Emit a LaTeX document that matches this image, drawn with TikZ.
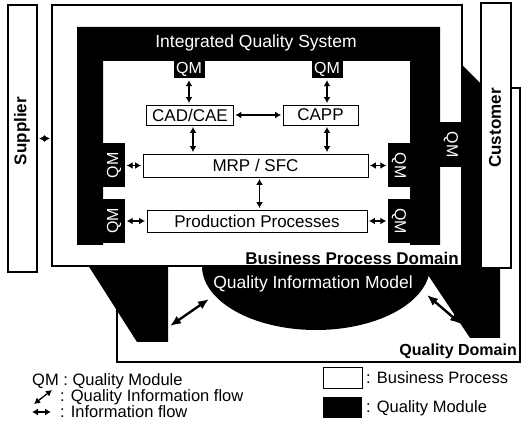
\documentclass[tikz,border=0pt]{standalone}
\usepackage{fontspec}
\setmainfont{Liberation Sans}
\usetikzlibrary{arrows.meta,positioning}

\begin{document}
\begin{tikzpicture}[x=1pt, y=-1pt,
  dominio/.style={draw, line width=1.2pt, fill=white, inner sep=0pt},
  processo/.style={draw, line width=0.9pt, fill=white, inner sep=0pt,
                   font=\fontsize{17}{20}\selectfont},
  modulo/.style={fill=black, text=white, inner sep=0pt,
                 font=\fontsize{16}{19}\selectfont},
  rotulo/.style={font=\fontsize{17}{20}\selectfont\bfseries, inner sep=0pt},
  branco/.style={text=white, font=\fontsize{17.5}{20}\selectfont, inner sep=0pt},
  legenda/.style={font=\fontsize{16.5}{19}\selectfont, inner sep=0pt, anchor=west},
  fluxo/.style={{Latex[length=6pt,width=7pt]}-{Latex[length=6pt,width=7pt]},
                line width=1.5pt, shorten >=1.5pt, shorten <=1.5pt},
  fluxoq/.style={{Latex[length=11pt,width=9pt]}-{Latex[length=11pt,width=9pt]},
                 line width=2.4pt}
]
\useasboundingbox (0,0) rectangle (525,430);

\node[dominio, minimum width=403pt, minimum height=274pt] (qd) at (318.5,225) {};
\fill (86,262) -- (137,342) -- (168,342) -- (168,262) -- cycle;
\fill (316,266) ellipse [x radius=114pt, y radius=64pt];
\fill (450,53) -- (500,103) -- (500,338) -- (470,338) -- (422,266) -- (450,266) -- cycle;

\node[dominio, minimum width=410pt, minimum height=261pt] (bpd) at (257,135.5) {};
\node[dominio, minimum width=30pt, minimum height=265pt] (cus) at (496,135.5) {};
\node[dominio, minimum width=29pt, minimum height=267pt] (sup) at (22.5,138.5) {};

\fill (77,27) -- (440,27) -- (440,245) -- (410,245) -- (410,61) -- (103,61)
  -- (103,245) -- (77,245) -- cycle;

\node[branco] (tiqs) at (256,43) {Integrated Quality System};
\node[branco] (tqim) at (313,284) {Quality Information Model};
\node[rotulo, anchor=east] (tbpd) at (459,258) {Business Process Domain};
\node[rotulo, anchor=east, font=\fontsize{16}{19}\selectfont\bfseries] (tqd) at (517,351) {Quality Domain};
\node[rotulo, rotate=90] (tsup) at (22,131) {Supplier};
\node[rotulo, rotate=90] (tcus) at (495,128) {Customer};

\node[processo, minimum width=87pt, minimum height=20pt] (cad) at (190,115) {CAD/CAE};
\node[processo, minimum width=75pt, minimum height=20pt] (capp) at (320.5,115) {CAPP};
\node[processo, minimum width=225pt, minimum height=23pt] (mrp) at (255.5,165.5) {MRP / SFC};
\node[processo, minimum width=220pt, minimum height=22pt] (prod) at (257,221) {Production Processes};

\node[modulo, minimum width=31pt, minimum height=18pt] (qm1) at (189,69.5) {QM};
\node[modulo, minimum width=31pt, minimum height=18pt] (qm2) at (327,69.5) {QM};
\node[modulo, minimum width=44pt, minimum height=22pt, rotate=90] (qml1) at (114,165.5) {QM};
\node[modulo, minimum width=44pt, minimum height=22pt, rotate=90] (qml2) at (114,221) {QM};
\node[modulo, minimum width=44pt, minimum height=22pt, rotate=-90] (qmr1) at (399,165.5) {QM};
\node[modulo, minimum width=44pt, minimum height=22pt, rotate=-90] (qmr2) at (399,221) {QM};
\node[modulo, minimum width=45pt, minimum height=22pt, rotate=-90] (qmc) at (451,144.5) {QM};

\draw[fluxo] (qm1) -- (qm1 |- cad.north);
\draw[fluxo] (qm2) -- (qm2 |- capp.north);
\draw[fluxo, line width=1.1pt] (cad) -- (capp);
\draw[fluxo] ([xshift=3pt]cad.south) -- ([xshift=3pt]cad.south |- mrp.north);
\draw[fluxo] (qm2 |- capp.south) -- (qm2 |- mrp.north);
\draw[fluxo] ([xshift=4pt]mrp.south) -- ([xshift=4pt]mrp.south |- prod.north);
\draw[fluxo] (qml1) -- (mrp);
\draw[fluxo] (qml2) -- (prod);
\draw[fluxo] (mrp) -- (qmr1);
\draw[fluxo] (prod) -- (qmr2);
\draw[fluxo] (sup.east) -- (sup.east -| bpd.west);

\coordinate (qa1) at (170,326);
\coordinate (qa2) at (209,299);
\coordinate (qa3) at (427,295);
\coordinate (qa4) at (461,324);
\draw[fluxoq] (qa1) -- (qa2);
\draw[fluxoq] (qa3) -- (qa4);

\node[legenda] (lqm) at (32,381) {QM : Quality Module};
\coordinate (lq1) at (34,404);
\coordinate (lq2) at (52,390);
\draw[fluxo, line width=1.3pt, shorten <=0pt, shorten >=0pt] (lq1) -- (lq2);
\node[legenda] (lqf) at (60,397) {: Quality Information flow};
\coordinate (lf1) at (32,412);
\coordinate (lf2) at (51,412);
\draw[fluxo, line width=1.3pt, shorten <=0pt, shorten >=0pt] (lf1) -- (lf2);
\node[legenda] (lif) at (60,412) {: Information flow};
\node[processo, minimum width=39pt, minimum height=21pt] (lbp) at (342.5,377.5) {};
\node[legenda] (tlbp) at (366,378) {: Business Process};
\node[modulo, minimum width=39pt, minimum height=21pt] (lmq) at (342.5,407.5) {};
\node[legenda] (tlmq) at (366,408) {: Quality Module};
\end{tikzpicture}
\end{document}
